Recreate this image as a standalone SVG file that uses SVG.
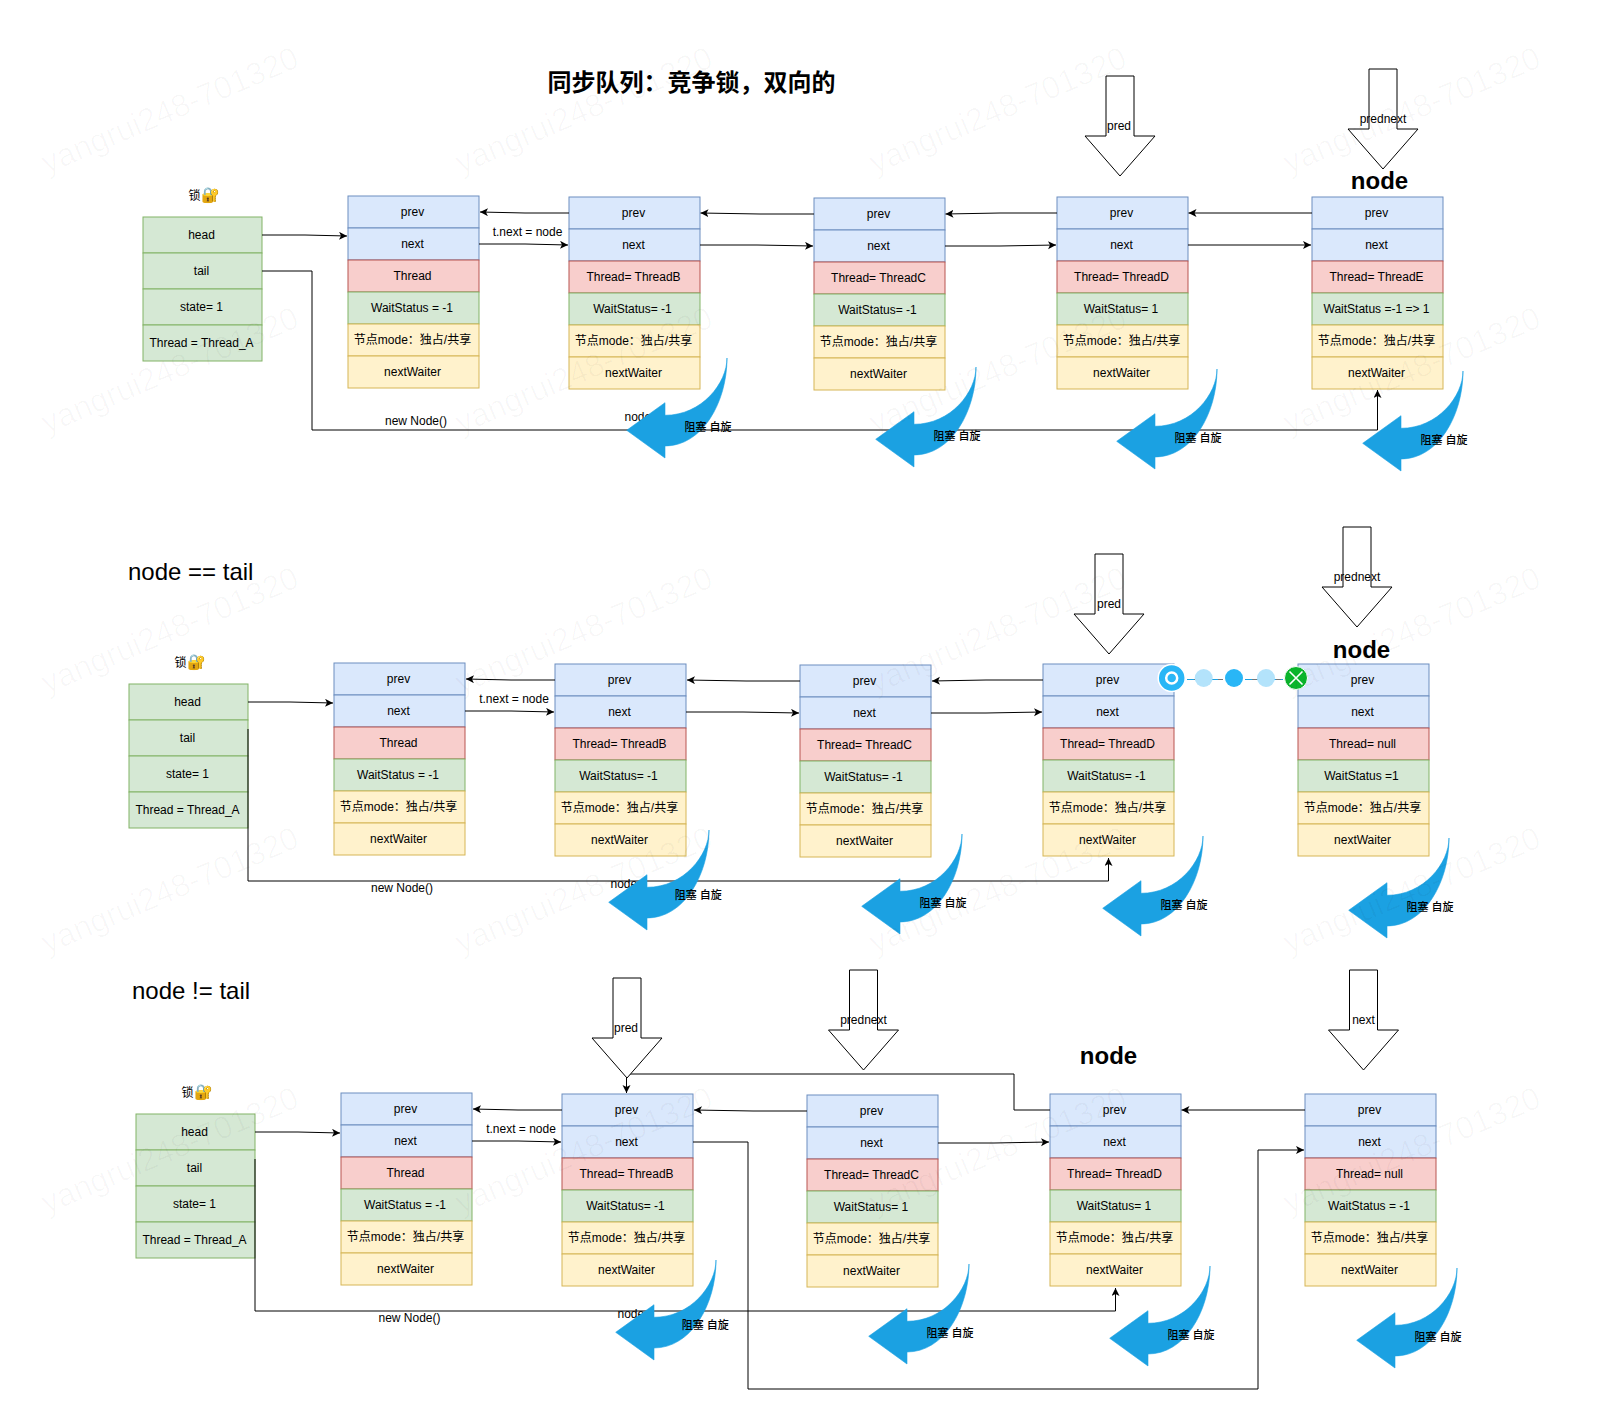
<svg xmlns="http://www.w3.org/2000/svg" width="1624" height="1426" viewBox="0 0 1624 1426">
<style>
text{font-family:"Liberation Sans","Noto Sans CJK SC",sans-serif;font-size:12px;fill:#000;text-anchor:middle}
.c{width:131px;height:32px;stroke-width:1}
.p{width:119px;height:36px;stroke-width:1}
.b{fill:#dae8fc;stroke:#6c8ebf}.r{fill:#f8cecc;stroke:#b85450}.g{fill:#d5e8d4;stroke:#82b366}.y{fill:#fff2cc;stroke:#d6b656}
.e{fill:none;stroke:#000;stroke-width:1;marker-end:url(#ah)}
.l{fill:none;stroke:#777;stroke-width:1}
.ba{fill:#fff;stroke:#000;stroke-width:1}
.ca{fill:#1ba1e2;stroke:#1ba1e2;stroke-width:.6}
.q{font-size:11px;font-weight:500}
.big{font-size:24px}.bold{font-size:24px;font-weight:700}
.left{text-anchor:start}
.lk{font-size:15px}
.wm{font-size:32px;fill:#000;fill-opacity:.027}
</style>
<defs>
<marker id="ah" markerUnits="userSpaceOnUse" markerWidth="9" markerHeight="9" refX="8" refY="4" orient="auto"><path d="M8 4L0 0L2 4L0 8Z" fill="#000"/></marker>
</defs>
<rect width="1624" height="1426" fill="#fff"/>
<text id="title" x="691.5" y="91" style="font-size:24px;font-weight:700;font-family:'Noto Sans CJK SC','Liberation Sans',sans-serif">同步队列：竞争锁，双向的</text>
<text class="big left" x="128" y="580">node == tail</text>
<text class="big left" x="132" y="999">node != tail</text>
<text class="bold" x="1379.5" y="189">node</text>
<text class="bold" x="1361.5" y="658">node</text>
<text class="bold" x="1108.5" y="1064">node</text>

<g id="r1-lock-panel" transform="translate(143 217)"><rect class="p g"/><rect class="p g" y="36"/><rect class="p g" y="72"/><rect class="p g" y="108"/>
<text x="58.5" y="22">head</text><text x="58.5" y="58">tail</text><text x="58.5" y="94">state= 1</text><text x="58.5" y="130">Thread = Thread_A</text><text x="61" y="-17">锁<tspan class="lk">🔐</tspan></text></g>
<g id="r1n1" transform="translate(348 196)"><rect class="c b"/><rect class="c b" y="32"/><rect class="c r" y="64"/><rect class="c g" y="96"/><rect class="c y" y="128"/><rect class="c y" y="160"/>
<text x="64.5" y="20">prev</text><text x="64.5" y="52">next</text><text x="64.5" y="84">Thread</text><text x="64" y="116">WaitStatus = -1</text><text x="64.5" y="148">节点mode：独占/共享</text><text x="64.5" y="180">nextWaiter</text></g>
<g id="r1n2" transform="translate(569 197)"><rect class="c b"/><rect class="c b" y="32"/><rect class="c r" y="64"/><rect class="c g" y="96"/><rect class="c y" y="128"/><rect class="c y" y="160"/>
<text x="64.5" y="20">prev</text><text x="64.5" y="52">next</text><text x="64.5" y="84">Thread= ThreadB</text><text x="63.5" y="116">WaitStatus= -1</text><text x="64.5" y="148">节点mode：独占/共享</text><text x="64.5" y="180">nextWaiter</text></g>
<g id="r1n3" transform="translate(814 198)"><rect class="c b"/><rect class="c b" y="32"/><rect class="c r" y="64"/><rect class="c g" y="96"/><rect class="c y" y="128"/><rect class="c y" y="160"/>
<text x="64.5" y="20">prev</text><text x="64.5" y="52">next</text><text x="64.5" y="84">Thread= ThreadC</text><text x="63.5" y="116">WaitStatus= -1</text><text x="64.5" y="148">节点mode：独占/共享</text><text x="64.5" y="180">nextWaiter</text></g>
<g id="r1n4" transform="translate(1057 197)"><rect class="c b"/><rect class="c b" y="32"/><rect class="c r" y="64"/><rect class="c g" y="96"/><rect class="c y" y="128"/><rect class="c y" y="160"/>
<text x="64.5" y="20">prev</text><text x="64.5" y="52">next</text><text x="64.5" y="84">Thread= ThreadD</text><text x="64" y="116">WaitStatus= 1</text><text x="64.5" y="148">节点mode：独占/共享</text><text x="64.5" y="180">nextWaiter</text></g>
<g id="r1n5" transform="translate(1312 197)"><rect class="c b"/><rect class="c b" y="32"/><rect class="c r" y="64"/><rect class="c g" y="96"/><rect class="c y" y="128"/><rect class="c y" y="160"/>
<text x="64.5" y="20">prev</text><text x="64.5" y="52">next</text><text x="64.5" y="84">Thread= ThreadE</text><text x="64.5" y="116">WaitStatus =-1 =&gt; 1</text><text x="64.5" y="148">节点mode：独占/共享</text><text x="64.5" y="180">nextWaiter</text></g>

<g id="r2-lock-panel" transform="translate(129 684)"><rect class="p g"/><rect class="p g" y="36"/><rect class="p g" y="72"/><rect class="p g" y="108"/>
<text x="58.5" y="22">head</text><text x="58.5" y="58">tail</text><text x="58.5" y="94">state= 1</text><text x="58.5" y="130">Thread = Thread_A</text><text x="61" y="-17">锁<tspan class="lk">🔐</tspan></text></g>
<g id="r2n1" transform="translate(334 663)"><rect class="c b"/><rect class="c b" y="32"/><rect class="c r" y="64"/><rect class="c g" y="96"/><rect class="c y" y="128"/><rect class="c y" y="160"/>
<text x="64.5" y="20">prev</text><text x="64.5" y="52">next</text><text x="64.5" y="84">Thread</text><text x="64" y="116">WaitStatus = -1</text><text x="64.5" y="148">节点mode：独占/共享</text><text x="64.5" y="180">nextWaiter</text></g>
<g id="r2n2" transform="translate(555 664)"><rect class="c b"/><rect class="c b" y="32"/><rect class="c r" y="64"/><rect class="c g" y="96"/><rect class="c y" y="128"/><rect class="c y" y="160"/>
<text x="64.5" y="20">prev</text><text x="64.5" y="52">next</text><text x="64.5" y="84">Thread= ThreadB</text><text x="63.5" y="116">WaitStatus= -1</text><text x="64.5" y="148">节点mode：独占/共享</text><text x="64.5" y="180">nextWaiter</text></g>
<g id="r2n3" transform="translate(800 665)"><rect class="c b"/><rect class="c b" y="32"/><rect class="c r" y="64"/><rect class="c g" y="96"/><rect class="c y" y="128"/><rect class="c y" y="160"/>
<text x="64.5" y="20">prev</text><text x="64.5" y="52">next</text><text x="64.5" y="84">Thread= ThreadC</text><text x="63.5" y="116">WaitStatus= -1</text><text x="64.5" y="148">节点mode：独占/共享</text><text x="64.5" y="180">nextWaiter</text></g>
<g id="r2n4" transform="translate(1043 664)"><rect class="c b"/><rect class="c b" y="32"/><rect class="c r" y="64"/><rect class="c g" y="96"/><rect class="c y" y="128"/><rect class="c y" y="160"/>
<text x="64.5" y="20">prev</text><text x="64.5" y="52">next</text><text x="64.5" y="84">Thread= ThreadD</text><text x="63.5" y="116">WaitStatus= -1</text><text x="64.5" y="148">节点mode：独占/共享</text><text x="64.5" y="180">nextWaiter</text></g>
<g id="r2n5" transform="translate(1298 664)"><rect class="c b"/><rect class="c b" y="32"/><rect class="c r" y="64"/><rect class="c g" y="96"/><rect class="c y" y="128"/><rect class="c y" y="160"/>
<text x="64.5" y="20">prev</text><text x="64.5" y="52">next</text><text x="64.5" y="84">Thread= null</text><text x="63.5" y="116">WaitStatus =1</text><text x="64.5" y="148">节点mode：独占/共享</text><text x="64.5" y="180">nextWaiter</text></g>

<g id="r3-lock-panel" transform="translate(136 1114)"><rect class="p g"/><rect class="p g" y="36"/><rect class="p g" y="72"/><rect class="p g" y="108"/>
<text x="58.5" y="22">head</text><text x="58.5" y="58">tail</text><text x="58.5" y="94">state= 1</text><text x="58.5" y="130">Thread = Thread_A</text><text x="61" y="-17">锁<tspan class="lk">🔐</tspan></text></g>
<g id="r3n1" transform="translate(341 1093)"><rect class="c b"/><rect class="c b" y="32"/><rect class="c r" y="64"/><rect class="c g" y="96"/><rect class="c y" y="128"/><rect class="c y" y="160"/>
<text x="64.5" y="20">prev</text><text x="64.5" y="52">next</text><text x="64.5" y="84">Thread</text><text x="64" y="116">WaitStatus = -1</text><text x="64.5" y="148">节点mode：独占/共享</text><text x="64.5" y="180">nextWaiter</text></g>
<g id="r3n2" transform="translate(562 1094)"><rect class="c b"/><rect class="c b" y="32"/><rect class="c r" y="64"/><rect class="c g" y="96"/><rect class="c y" y="128"/><rect class="c y" y="160"/>
<text x="64.5" y="20">prev</text><text x="64.5" y="52">next</text><text x="64.5" y="84">Thread= ThreadB</text><text x="63.5" y="116">WaitStatus= -1</text><text x="64.5" y="148">节点mode：独占/共享</text><text x="64.5" y="180">nextWaiter</text></g>
<g id="r3n3" transform="translate(807 1095)"><rect class="c b"/><rect class="c b" y="32"/><rect class="c r" y="64"/><rect class="c g" y="96"/><rect class="c y" y="128"/><rect class="c y" y="160"/>
<text x="64.5" y="20">prev</text><text x="64.5" y="52">next</text><text x="64.5" y="84">Thread= ThreadC</text><text x="64" y="116">WaitStatus= 1</text><text x="64.5" y="148">节点mode：独占/共享</text><text x="64.5" y="180">nextWaiter</text></g>
<g id="r3n4" transform="translate(1050 1094)"><rect class="c b"/><rect class="c b" y="32"/><rect class="c r" y="64"/><rect class="c g" y="96"/><rect class="c y" y="128"/><rect class="c y" y="160"/>
<text x="64.5" y="20">prev</text><text x="64.5" y="52">next</text><text x="64.5" y="84">Thread= ThreadD</text><text x="64" y="116">WaitStatus= 1</text><text x="64.5" y="148">节点mode：独占/共享</text><text x="64.5" y="180">nextWaiter</text></g>
<g id="r3n5" transform="translate(1305 1094)"><rect class="c b"/><rect class="c b" y="32"/><rect class="c r" y="64"/><rect class="c g" y="96"/><rect class="c y" y="128"/><rect class="c y" y="160"/>
<text x="64.5" y="20">prev</text><text x="64.5" y="52">next</text><text x="64.5" y="84">Thread= null</text><text x="64" y="116">WaitStatus = -1</text><text x="64.5" y="148">节点mode：独占/共享</text><text x="64.5" y="180">nextWaiter</text></g>

<g id="connectors">
<path class="e" d="M262 235H305L347 236"/>
<path class="e" d="M262 271H312V430H1377.5V390"/>
<path class="e" d="M569 213H525L480 212"/>
<path class="e" d="M479 244H525L568 245"/>
<path class="e" d="M814 214H760L700.5 213"/>
<path class="e" d="M700 245H757L813 246"/>
<path class="e" d="M1057 213H1000L945.5 214"/>
<path class="e" d="M945 246H1000L1056 245"/>
<path class="e" d="M1312 213H1188.5"/>
<path class="e" d="M1188 245H1311"/>
<path class="e" d="M248 702H290L333 703"/>
<path class="e" d="M248 729V881H1108.5V858"/>
<path class="e" d="M555 680H511L466 679"/>
<path class="e" d="M465 711H511L554 712"/>
<path class="e" d="M800 681H746L687 680"/>
<path class="e" d="M686 712H743L799 713"/>
<path class="e" d="M1043 680H986L932 681"/>
<path class="e" d="M931 713H986L1042 712"/>
<path class="e" d="M255 1132H298L340 1133"/>
<path class="e" d="M255 1159V1311H1115.5V1288"/>
<path class="e" d="M562 1110H518L473 1109"/>
<path class="e" d="M472 1141H518L561 1142"/>
<path class="e" d="M807 1111H753L694 1110"/>
<path class="e" d="M693 1142H748V1389H1258V1150H1304"/>
<path class="e" d="M938 1143H994L1049 1142"/>
<path class="e" d="M1050 1110H1014V1074H626.5V1093"/>
<path class="e" d="M1305 1110H1181.5"/>
<text x="527.5" y="236">t.next = node</text>
<text x="514" y="703">t.next = node</text>
<text x="521" y="1133">t.next = node</text>
<text x="416" y="425">new Node()</text>
<text x="402" y="892">new Node()</text>
<text x="409.5" y="1322">new Node()</text>
<text class="left" x="624.5" y="421">node</text>
<text class="left" x="610.5" y="888">node</text>
<text class="left" x="617.5" y="1318">node</text>
</g>

<g id="r1-pred" transform="translate(1120 76)"><path class="ba" d="M-14 0H14V60H35L0 100L-35 60H-14Z"/><text x="-1" y="54">pred</text></g>
<g id="r1-prednext" transform="translate(1383 69)"><path class="ba" d="M-14 0H14V60H35L0 100L-35 60H-14Z"/><text y="54">prednext</text></g>
<g id="r2-pred" transform="translate(1109 554)"><path class="ba" d="M-14 0H14V60H35L0 100L-35 60H-14Z"/><text y="54">pred</text></g>
<g id="r2-prednext" transform="translate(1357 527)"><path class="ba" d="M-14 0H14V60H35L0 100L-35 60H-14Z"/><text y="54">prednext</text></g>
<g id="r3-pred" transform="translate(627 978)"><path class="ba" d="M-14 0H14V60H35L0 100L-35 60H-14Z"/><text x="-1" y="54">pred</text></g>
<g id="r3-prednext" transform="translate(863.5 970)"><path class="ba" d="M-14 0H14V60H35L0 100L-35 60H-14Z"/><text y="54">prednext</text></g>
<g id="r3-next" transform="translate(1363.5 970)"><path class="ba" d="M-14 0H14V60H35L0 100L-35 60H-14Z"/><text y="54">next</text></g>

<g id="r1-spin1" transform="translate(727 358)"><path class="ca" d="M0 0C0 25-25 57.3-62 57.3V44.7L-100.3 72.3L-62 100V88C-25 88 0 45 0 0Z"/><text class="q" x="-19" y="73">阻塞 自旋</text></g>
<g id="r1-spin2" transform="translate(976 367)"><path class="ca" d="M0 0C0 25-25 57.3-62 57.3V44.7L-100.3 72.3L-62 100V88C-25 88 0 45 0 0Z"/><text class="q" x="-19" y="73">阻塞 自旋</text></g>
<g id="r1-spin3" transform="translate(1217 369)"><path class="ca" d="M0 0C0 25-25 57.3-62 57.3V44.7L-100.3 72.3L-62 100V88C-25 88 0 45 0 0Z"/><text class="q" x="-19" y="73">阻塞 自旋</text></g>
<g id="r1-spin4" transform="translate(1463 371)"><path class="ca" d="M0 0C0 25-25 57.3-62 57.3V44.7L-100.3 72.3L-62 100V88C-25 88 0 45 0 0Z"/><text class="q" x="-19" y="73">阻塞 自旋</text></g>
<g id="r2-spin1" transform="translate(709 830)"><path class="ca" d="M0 0C0 25-25 57.3-62 57.3V44.7L-100.3 72.3L-62 100V88C-25 88 0 45 0 0Z"/><text class="q" x="-10.7" y="69">阻塞 自旋</text></g>
<g id="r2-spin2" transform="translate(962 834)"><path class="ca" d="M0 0C0 25-25 57.3-62 57.3V44.7L-100.3 72.3L-62 100V88C-25 88 0 45 0 0Z"/><text class="q" x="-19" y="73">阻塞 自旋</text></g>
<g id="r2-spin3" transform="translate(1203 836)"><path class="ca" d="M0 0C0 25-25 57.3-62 57.3V44.7L-100.3 72.3L-62 100V88C-25 88 0 45 0 0Z"/><text class="q" x="-19" y="73">阻塞 自旋</text></g>
<g id="r2-spin4" transform="translate(1449 838)"><path class="ca" d="M0 0C0 25-25 57.3-62 57.3V44.7L-100.3 72.3L-62 100V88C-25 88 0 45 0 0Z"/><text class="q" x="-19" y="73">阻塞 自旋</text></g>
<g id="r3-spin1" transform="translate(716 1260)"><path class="ca" d="M0 0C0 25-25 57.3-62 57.3V44.7L-100.3 72.3L-62 100V88C-25 88 0 45 0 0Z"/><text class="q" x="-10.7" y="69">阻塞 自旋</text></g>
<g id="r3-spin2" transform="translate(969 1264)"><path class="ca" d="M0 0C0 25-25 57.3-62 57.3V44.7L-100.3 72.3L-62 100V88C-25 88 0 45 0 0Z"/><text class="q" x="-19" y="73">阻塞 自旋</text></g>
<g id="r3-spin3" transform="translate(1210 1266)"><path class="ca" d="M0 0C0 25-25 57.3-62 57.3V44.7L-100.3 72.3L-62 100V88C-25 88 0 45 0 0Z"/><text class="q" x="-19" y="73">阻塞 自旋</text></g>
<g id="r3-spin4" transform="translate(1457 1268)"><path class="ca" d="M0 0C0 25-25 57.3-62 57.3V44.7L-100.3 72.3L-62 100V88C-25 88 0 45 0 0Z"/><text class="q" x="-19" y="73">阻塞 自旋</text></g>

<g id="route-widget">
<path class="l" d="M1187 679.5H1223M1245 679.5H1283"/>
<path d="M1187 679.5H1223M1245 679.5H1283" fill="none" stroke="#1ba1e2" stroke-width="1" stroke-dasharray="7 5"/>
<circle cx="1171.7" cy="678" r="13.5" fill="#29b6f6" stroke="#fff" stroke-width="1.5"/>
<circle cx="1171.7" cy="678" r="5.5" fill="none" stroke="#fff" stroke-width="2.5"/>
<circle cx="1203.7" cy="678" r="9" fill="#b3e3fb"/>
<circle cx="1234" cy="678" r="9" fill="#29b6f6"/>
<circle cx="1266" cy="678" r="9" fill="#b3e3fb"/>
<circle cx="1296" cy="678" r="11.5" fill="#0bb52c" stroke="#fff" stroke-width="1"/>
<path d="M1289.5 671.5L1302.5 684.5M1302.5 671.5L1289.5 684.5" fill="none" stroke="#fff" stroke-width="1.6"/>
</g>

<g id="watermark">
<text class="wm" transform="translate(174 120) rotate(-23)">yangrui248-701320</text>
<text class="wm" transform="translate(588 120) rotate(-23)">yangrui248-701320</text>
<text class="wm" transform="translate(1002 120) rotate(-23)">yangrui248-701320</text>
<text class="wm" transform="translate(1416 120) rotate(-23)">yangrui248-701320</text>
<text class="wm" transform="translate(174 380) rotate(-23)">yangrui248-701320</text>
<text class="wm" transform="translate(588 380) rotate(-23)">yangrui248-701320</text>
<text class="wm" transform="translate(1002 380) rotate(-23)">yangrui248-701320</text>
<text class="wm" transform="translate(1416 380) rotate(-23)">yangrui248-701320</text>
<text class="wm" transform="translate(174 640) rotate(-23)">yangrui248-701320</text>
<text class="wm" transform="translate(588 640) rotate(-23)">yangrui248-701320</text>
<text class="wm" transform="translate(1002 640) rotate(-23)">yangrui248-701320</text>
<text class="wm" transform="translate(1416 640) rotate(-23)">yangrui248-701320</text>
<text class="wm" transform="translate(174 900) rotate(-23)">yangrui248-701320</text>
<text class="wm" transform="translate(588 900) rotate(-23)">yangrui248-701320</text>
<text class="wm" transform="translate(1002 900) rotate(-23)">yangrui248-701320</text>
<text class="wm" transform="translate(1416 900) rotate(-23)">yangrui248-701320</text>
<text class="wm" transform="translate(174 1160) rotate(-23)">yangrui248-701320</text>
<text class="wm" transform="translate(588 1160) rotate(-23)">yangrui248-701320</text>
<text class="wm" transform="translate(1002 1160) rotate(-23)">yangrui248-701320</text>
<text class="wm" transform="translate(1416 1160) rotate(-23)">yangrui248-701320</text>
</g>
</svg>
